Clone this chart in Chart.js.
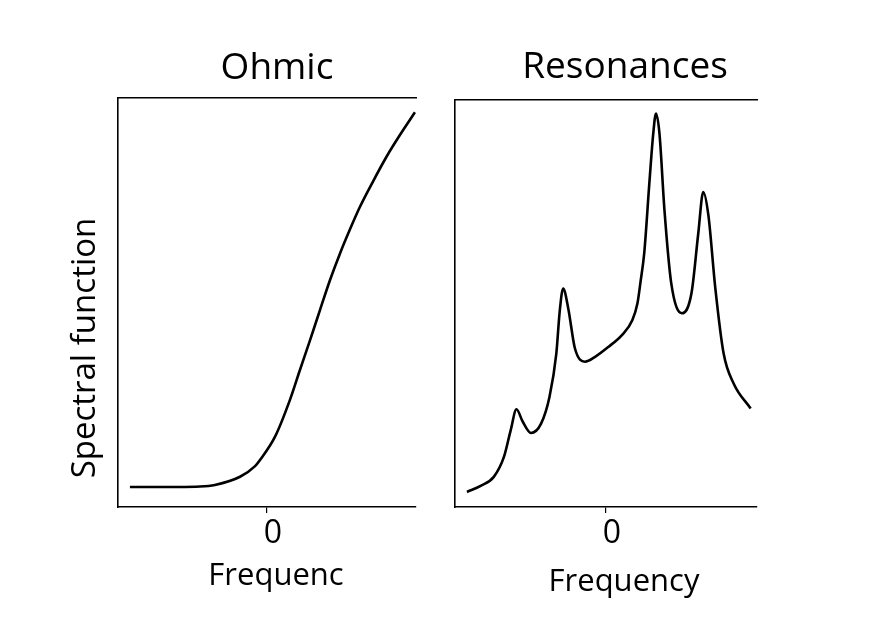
<!DOCTYPE html>
<html>
<head>
<meta charset="utf-8">
<script src="https://cdn.jsdelivr.net/npm/chart.js@4.4.1/dist/chart.umd.min.js"></script>
<style>
  html, body { margin: 0; padding: 0; background: #fff; }
  .wrap { position: relative; width: 884px; height: 620px; }
  .wrap canvas { position: absolute; left: 0; top: 0; }
</style>
</head>
<body>
<div class="wrap">
  <canvas id="ohmic" width="884" height="620"></canvas>
  <canvas id="reso" width="884" height="620"></canvas>
</div>
<script>
// Ohmic panel (frequency, spectral function)
const ohmicFreq = [-0.92, -0.75, -0.6, -0.45, -0.35, -0.181, -0.08, -0.047, 0.054, 0.154, 0.221, 0.289, 0.356, 0.423, 0.490, 0.557, 0.624, 0.713, 0.803, 0.893, 0.993];
const ohmicValues = [0.049, 0.049, 0.049, 0.050, 0.054, 0.074, 0.100, 0.115, 0.172, 0.262, 0.335, 0.408, 0.482, 0.555, 0.620, 0.679, 0.734, 0.797, 0.857, 0.910, 0.965];

// Resonances panel
const resFreq = [-0.921, -0.83, -0.743, -0.676, -0.631, -0.593, -0.552, -0.497, -0.430, -0.374, -0.329, -0.307, -0.284, -0.250, -0.206, -0.139, -0.072, 0.018, 0.107, 0.174, 0.208, 0.230, 0.253, 0.287, 0.313, 0.331, 0.354, 0.387, 0.432, 0.503, 0.566, 0.611, 0.644, 0.678, 0.723, 0.779, 0.846, 0.958];
const resValues = [0.037, 0.052, 0.074, 0.123, 0.189, 0.240, 0.210, 0.182, 0.205, 0.271, 0.377, 0.479, 0.537, 0.488, 0.390, 0.357, 0.369, 0.394, 0.423, 0.459, 0.500, 0.557, 0.623, 0.795, 0.918, 0.967, 0.918, 0.730, 0.550, 0.476, 0.525, 0.672, 0.774, 0.717, 0.541, 0.377, 0.303, 0.242];

const tickValues = [0];
const fontFamily = "'Open Sans', 'Noto Sans', sans-serif";

// titles / axis labels drawn as text on the canvas
const panelText = {
  id: 'panelText',
  afterDraw(chart, args, opts) {
    const ctx = chart.ctx;
    ctx.save();
    ctx.fillStyle = '#000';
    ctx.textAlign = 'center';
    ctx.textBaseline = 'alphabetic';
    ctx.font = '37px ' + fontFamily;
    ctx.fillText(opts.title, opts.titleX, opts.titleY);
    ctx.font = '31px ' + fontFamily;
    ctx.fillText(opts.xLabel, opts.xLabelX, opts.xLabelY);
    if (opts.yLabel) {
      ctx.font = '33px ' + fontFamily;
      ctx.translate(opts.yLabelX, opts.yLabelY);
      ctx.rotate(-Math.PI / 2);
      ctx.textBaseline = 'middle';
      ctx.fillText(opts.yLabel, 0, 0);
    }
    ctx.restore();
  }
};

function makePanel(id, xs, ys, pad, text) {
  const pts = xs.map((x, i) => ({ x: x, y: ys[i] }));
  return new Chart(document.getElementById(id), {
    type: 'line',
    data: {
      datasets: [{
        data: pts,
        borderColor: '#000',
        borderWidth: 2.6,
        pointRadius: 0,
        cubicInterpolationMode: 'monotone',
        fill: false
      }]
    },
    options: {
      responsive: false,
      animation: false,
      layout: { padding: pad },
      plugins: {
        legend: { display: false },
        tooltip: { enabled: false },
        panelText: text
      },
      scales: {
        x: {
          type: 'linear',
          position: 'bottom',
          min: -1, max: 1,
          afterBuildTicks: (s) => { s.ticks = tickValues.map(v => ({ value: v })); },
          afterFit: (s) => { s.height = 60; },
          grid: { drawOnChartArea: false, drawTicks: true, tickLength: 6, color: '#000', lineWidth: 1.2 },
          border: { display: true, color: '#000', width: 1.6 },
          ticks: { color: '#000', padding: 2, labelOffset: 6, autoSkip: false, maxRotation: 0, font: { family: fontFamily, size: 32 } }
        },
        xTop: {
          type: 'linear',
          position: 'top',
          min: -1, max: 1,
          afterFit: (s) => { s.height = 0; },
          grid: { display: false },
          border: { display: true, color: '#000', width: 1.6 },
          ticks: { display: false }
        },
        y: {
          min: 0, max: 1,
          afterFit: (s) => { s.width = 0; },
          grid: { display: false },
          border: { display: true, color: '#000', width: 1.6 },
          ticks: { display: false }
        }
      }
    },
    plugins: [panelText]
  });
}

makePanel('ohmic', ohmicFreq, ohmicValues,
  { left: 118, right: 468, top: 98, bottom: 53 },
  { title: 'Ohmic', titleX: 277, titleY: 79, xLabel: 'Frequenc', xLabelX: 276, xLabelY: 585,
    yLabel: 'Spectral function', yLabelX: 86, yLabelY: 348 });

makePanel('reso', resFreq, resValues,
  { left: 455, right: 127, top: 100, bottom: 53 },
  { title: 'Resonances', titleX: 625, titleY: 78, xLabel: 'Frequency', xLabelX: 624, xLabelY: 591 });
</script>
</body>
</html>
